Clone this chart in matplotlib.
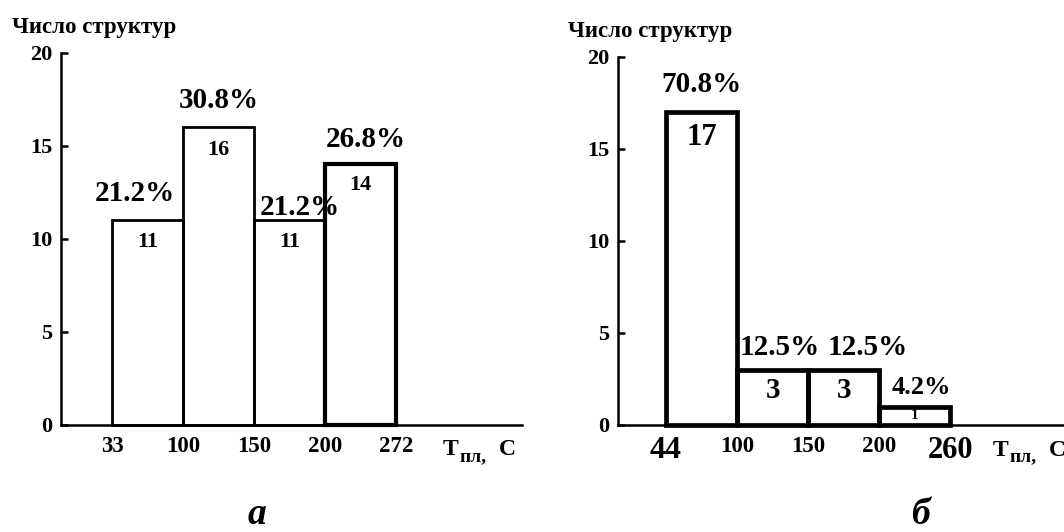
import numpy as np
import matplotlib.pyplot as plt

plt.rcParams['font.family'] = ['Liberation Serif', 'DejaVu Serif']
plt.rcParams['font.weight'] = 'bold'

# panel а: melting-point interval bounds, structures per interval, share
temps_a = ['33', '100', '150', '200', '272']
counts_a = [11, 16, 11, 14]
shares_a = ['21.2%', '30.8%', '21.2%', '26.8%']

# panel б
temps_b = ['44', '100', '150', '200', '260']
counts_b = [17, 3, 3, 1]
shares_b = ['70.8%', '12.5%', '12.5%', '4.2%']

y_title = 'Число структур'
y_ticks = [0, 5, 10, 15, 20]


def draw_panel(ax, temps, counts, shares, bar_lw, share_off, share_fs,
               count_off, count_fs, tick_fs, xlim, t_pos):
    edges = np.arange(len(temps))
    bars = ax.bar(edges[:-1], counts, width=1, align='edge', fill=False,
                  edgecolor='black', linewidth=bar_lw, clip_on=False, zorder=3)

    for i, b in enumerate(bars):
        xc = b.get_x() + b.get_width() / 2
        top = b.get_height()
        dx, dy = share_off[i]
        ax.annotate(shares[i], (xc, top), xytext=(dx, dy), textcoords='offset points',
                    ha='center', va='center', fontsize=share_fs[i], annotation_clip=False)
        cy = count_off[i]
        if cy is None:
            # too short for an offset label, centre it inside
            ax.annotate(str(counts[i]), (xc, top / 2), ha='center', va='center',
                        fontsize=count_fs[i])
        else:
            ax.annotate(str(counts[i]), (xc, top), xytext=(0, cy), textcoords='offset points',
                        ha='center', va='center', fontsize=count_fs[i])

    ax.set_xlim(*xlim)
    ax.set_ylim(0, 20)
    ax.set_yticks(y_ticks)
    ax.set_xticks(edges)
    ax.set_xticklabels(temps)
    for lab, fs in zip(ax.get_xticklabels(), tick_fs):
        lab.set_fontsize(fs)
    ax.tick_params(axis='x', length=0, pad=8)
    ax.tick_params(axis='y', direction='in', length=5, width=1.8, labelsize=16, pad=6)
    for s in ('top', 'right'):
        ax.spines[s].set_visible(False)
    for s in ('left', 'bottom'):
        ax.spines[s].set_linewidth(1.8)

    # axis name T_пл, C
    tx = ax.get_xaxis_transform()
    x0 = t_pos
    ax.annotate('T', (x0, 0), xycoords=tx, xytext=(0, -18), textcoords='offset points',
                ha='left', va='center', fontsize=17, annotation_clip=False)
    ax.annotate('пл,', (x0, 0), xycoords=tx, xytext=(12, -23), textcoords='offset points',
                ha='left', va='center', fontsize=14, annotation_clip=False)
    ax.annotate('C', (x0, 0), xycoords=tx, xytext=(40, -18), textcoords='offset points',
                ha='left', va='center', fontsize=17, annotation_clip=False)
    return bars


fig = plt.figure(figsize=(10.64, 5.32), dpi=100)
W, H = 1064, 532

ax_a = fig.add_axes([61 / W, (H - 424.5) / H, 461 / W, 371.5 / H])
bars_a = draw_panel(ax_a, temps_a, counts_a, shares_a, bar_lw=2.0,
                    share_off=[(-9, 19), (0, 19), (7, 9), (4, 18)],
                    share_fs=[21, 21, 21, 21],
                    count_off=[-16, -16, -16, -15], count_fs=[16] * 4,
                    tick_fs=[16.5] * 5, xlim=(-0.72, 5.77), t_pos=4.66)
bars_a[-1].set_linewidth(3.0)

ax_b = fig.add_axes([618 / W, (H - 425) / H, 446 / W, 368 / H])
draw_panel(ax_b, temps_b, counts_b, shares_b, bar_lw=3.4,
           share_off=[(0, 20), (5, 16), (17, 16), (5, 14)],
           share_fs=[21, 21, 21, 19],
           count_off=[-18, -15, -15, None], count_fs=[22, 21, 21, 11],
           tick_fs=[23, 16.5, 16.5, 16.5, 22], xlim=(-0.676, 5.6), t_pos=4.6)

fig.text(12 / W, (H - 28) / H, y_title, fontsize=16.5, ha='left', va='center')
fig.text(568 / W, (H - 32) / H, y_title, fontsize=16.5, ha='left', va='center')

fig.text(257 / W, 8 / H, 'а', fontsize=27, style='italic', ha='center', va='baseline')
fig.text(920 / W, 8 / H, 'б', fontsize=27, style='italic', ha='center', va='baseline')

fig.savefig('out.png', dpi=100)
